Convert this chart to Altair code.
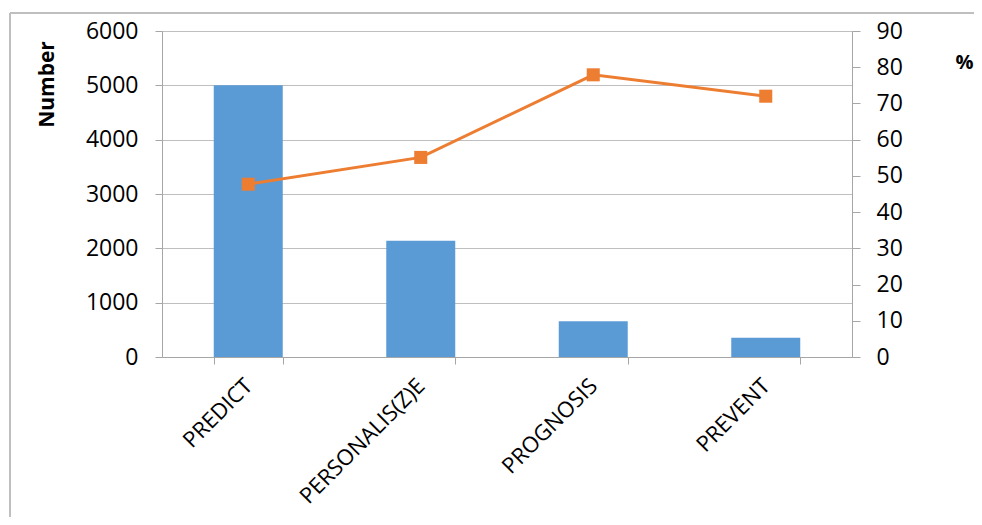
import altair as alt
import pandas as pd

categories = ["PREDICT", "PERSONALIS(Z)E", "PROGNOSIS", "PREVENT"]
numbers = [5000, 2140, 660, 355]
percents = [47.7, 55.1, 77.9, 72.0]

df = pd.DataFrame({"cat": categories, "num": numbers, "pct": percents})

FONT = "Open Sans"
GRID = "#BFBFBF"
AX = "#A6A6A6"

x_enc = alt.X(
    "cat:N",
    sort=categories,
    scale=alt.Scale(paddingInner=0.6, paddingOuter=0.3),
    axis=alt.Axis(
        title=None,
        labelAngle=-45,
        labelAlign="right",
        labelBaseline="middle",
        labelPadding=18,
        labelFontSize=22,
        labelFont=FONT,
        labelColor="#000000",
        tickBand="extent",
        tickSize=7,
        tickColor=AX,
        domainColor=AX,
        grid=False,
    ),
)

bars = alt.Chart(df).mark_bar(color="#5B9BD5").encode(
    x=x_enc,
    y=alt.Y(
        "num:Q",
        scale=alt.Scale(domain=[0, 6000], nice=False),
        axis=alt.Axis(
            values=[0, 1000, 2000, 3000, 4000, 5000, 6000],
            format="d",
            title="Number",
            titleFont=FONT,
            titleFontSize=21,
            titleFontWeight="bold",
            titleAngle=-90,
            titleAlign="center",
            titleBaseline="middle",
            titleX=-115,
            titleY=53,
            labelFont=FONT,
            labelFontSize=23,
            labelColor="#000000",
            labelPadding=17,
            tickSize=7,
            tickColor=AX,
            domainColor=AX,
            grid=True,
            gridColor=GRID,
        ),
    ),
)

line = alt.Chart(df).mark_line(
    color="#ED7D31", strokeWidth=3,
    point=alt.OverlayMarkDef(shape="square", size=170, color="#ED7D31", filled=True, opacity=1),
).encode(
    x=alt.X("cat:N", sort=categories),
    y=alt.Y(
        "pct:Q",
        scale=alt.Scale(domain=[0, 90], nice=False),
        axis=alt.Axis(
            orient="right",
            values=[0, 10, 20, 30, 40, 50, 60, 70, 80, 90],
            title="%",
            titleFont=FONT,
            titleFontSize=20,
            titleFontWeight="bold",
            titleAngle=0,
            titleAlign="center",
            titleBaseline="middle",
            titleX=112,
            titleY=31,
            labelFont=FONT,
            labelFontSize=23,
            labelColor="#000000",
            labelPadding=16,
            tickSize=8,
            tickColor=AX,
            domainColor=AX,
            grid=False,
        ),
    ),
)

frame_top = alt.Chart(df).mark_rule(color="#BFBFBF", strokeWidth=1.5).encode(
    x=alt.value(-152), x2=alt.value(900), y=alt.value(-18)
)
frame_left = alt.Chart(df).mark_rule(color="#BFBFBF", strokeWidth=1.5).encode(
    x=alt.value(-152), y=alt.value(-18), y2=alt.value(500)
)

chart = (
    alt.layer(bars, line, frame_top, frame_left)
    .resolve_scale(y="independent")
    .properties(
        width=690,
        height=326,
        autosize=alt.AutoSizeParams(type="none"),
        padding={"left": 154, "top": 23, "right": 122, "bottom": 160},
    )
    .configure_view(stroke=None)
    .configure(background="white")
)

chart.save("out.html", embed_options={"renderer": "svg", "actions": False})
